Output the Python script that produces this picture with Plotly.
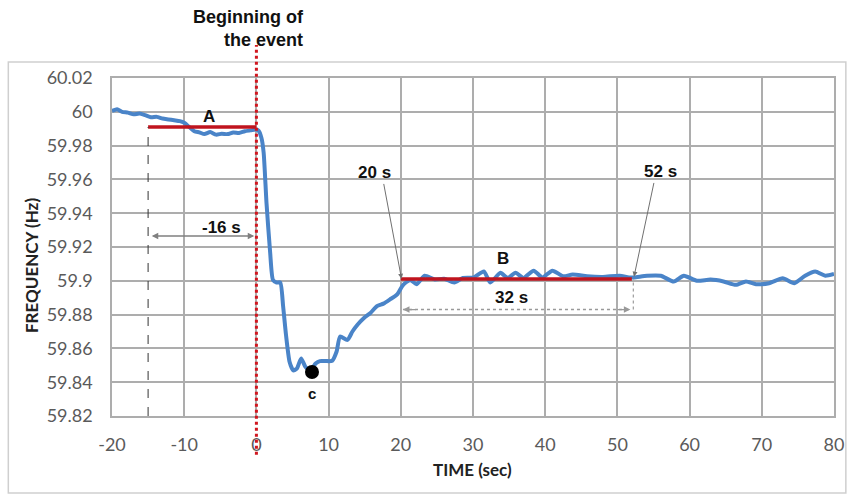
import plotly.graph_objects as go

# ---- data ----
time_s = [-20, -19.3, -18.6, -17.8, -17.0, -16.2, -15.4, -14.6, -13.8, -13.0, -12.2, -11.4, -10.6, -10.0,
          -9.3, -8.6, -7.9, -7.2, -6.4, -5.6, -4.8, -4.0, -3.2, -2.4, -1.6, -0.8, -0.1,
          0.3, 0.7, 1.0, 1.4, 1.9, 2.3, 2.8, 3.3, 3.7, 4.1, 4.6, 5.1, 5.6, 6.2, 6.8, 7.5, 8.2, 8.8,
          9.6, 10.5, 11.1, 11.6, 12.6, 13.3, 14.0, 14.9, 15.8, 16.7, 17.6, 18.5, 19.5, 20.3,
          21.3, 22.2, 23.3, 24.7, 26.0, 27.4, 28.6, 30.1, 31.5, 32.4, 33.8, 34.8, 35.9, 37.0,
          38.4, 39.6, 41.0, 42.5, 43.8, 45.8, 48.0, 50.3, 51.6, 52.3, 54.1, 56.0, 57.8, 59.2,
          61.0, 62.9, 64.7, 66.4, 67.8, 69.2, 71.0, 72.9, 74.5, 76.0, 77.4, 78.8, 80.0]
freq_hz = [60.0005, 60.0015, 60.0, 59.9995, 59.9985, 59.999, 59.998, 59.9968, 59.997, 59.996, 59.9955, 59.995, 59.9945, 59.9935,
           59.991, 59.9885, 59.9878, 59.9868, 59.988, 59.9865, 59.987, 59.9868, 59.9878, 59.9875, 59.9885, 59.989, 59.9895,
           59.9888, 59.9845, 59.976, 59.946, 59.917, 59.9005, 59.899, 59.8990, 59.885, 59.868, 59.852, 59.847, 59.848, 59.854, 59.849, 59.847, 59.851, 59.8525,
           59.8525, 59.8527, 59.858, 59.867, 59.865, 59.870, 59.874, 59.878, 59.881, 59.885, 59.8865, 59.889, 59.892, 59.8975,
           59.9005, 59.898, 59.903, 59.9008, 59.9012, 59.899, 59.9017, 59.902, 59.9055, 59.899, 59.9047, 59.9017, 59.9047, 59.9017,
           59.906, 59.902, 59.906, 59.9027, 59.9037, 59.9027, 59.9023, 59.903, 59.902, 59.902, 59.903, 59.903, 59.8996, 59.903,
           59.900, 59.9007, 59.8996, 59.8976, 59.8996, 59.898, 59.8986, 59.9015, 59.8986, 59.903, 59.9055, 59.903, 59.904]

level_a_t = [-15, 0]
level_a_f = [59.991, 59.991]
level_b_t = [20, 52]
level_b_f = [59.901, 59.901]
point_c = (7.7, 59.846)

y_ticks = [59.82, 59.84, 59.86, 59.88, 59.9, 59.92, 59.94, 59.96, 59.98, 60.0, 60.02]
y_tick_text = ["59.82", "59.84", "59.86", "59.88", "59.9", "59.92", "59.94", "59.96", "59.98", "60", "60.02"]
x_ticks = [-20, -10, 0, 10, 20, 30, 40, 50, 60, 70, 80]
x_tick_text = ["-20", "-10", "0", "10", "20", "30", "40", "50", "60", "70", "80"]

BLUE = "#4A84C8"
RED = "#C0141E"
GRID = "#ADADAD"
LABEL_FONT = dict(family="Liberation Sans, Arial, sans-serif", size=17, color="#111111")
TICK_FONT = dict(family="Lato, sans-serif", size=18, color="#5A5A5A")

fig = go.Figure()
fig.add_trace(go.Scatter(x=time_s, y=freq_hz, mode="lines",
                         line=dict(color=BLUE, width=4, shape="spline", smoothing=0.6),
                         hoverinfo="skip"))
fig.add_trace(go.Scatter(x=level_a_t, y=level_a_f, mode="lines", line=dict(color=RED, width=3.5)))
fig.add_trace(go.Scatter(x=level_b_t, y=level_b_f, mode="lines", line=dict(color=RED, width=3.5)))
fig.add_trace(go.Scatter(x=[point_c[0]], y=[point_c[1]], mode="markers",
                         marker=dict(color="black", size=14)))

# dashed vertical line at start of A
fig.add_shape(type="line", x0=-15, x1=-15, y0=59.82, y1=level_a_f[0], xref="x", yref="y",
              line=dict(color="#333333", width=1, dash="dash"))
# red dotted event line
fig.add_shape(type="line", x0=0, x1=0, y0=-0.115, y1=1.098, xref="x", yref="paper",
              line=dict(color="#D0161E", width=3, dash="dot"))
# dotted vertical at end of B
fig.add_shape(type="line", x0=52.2, x1=52.2, y0=59.883, y1=59.901, xref="x", yref="y",
              line=dict(color="#888888", width=1, dash="dot"))
# dotted horizontal for 32 s
fig.add_shape(type="line", x0=20.3, x1=51.8, y0=59.883, y1=59.883, xref="x", yref="y",
              line=dict(color="#999999", width=1.5, dash="dot"))
# outer border
fig.add_shape(type="rect", x0=-0.1436, x1=1.0164, y0=-0.228, y1=1.047, xref="paper", yref="paper",
              line=dict(color="#CFCFCF", width=1.5), layer="below")

anns = []
def arrow(x, y, ax, ay, color="#808080", width=1.2, side="end", head=2, size=1.0):
    anns.append(dict(x=x, y=y, ax=ax, ay=ay, xref="x", yref="y", axref="x", ayref="y",
                     text="", showarrow=True, arrowhead=head, arrowsize=size, arrowwidth=width,
                     arrowcolor=color, arrowside=side, standoff=0, startstandoff=0))

arrow(-0.3, 59.9265, -14.7, 59.9265, side="end+start", width=1.3)
arrow(20.1, 59.9012, 17.6, 59.9582, color="#707070", width=1)
arrow(52.3, 59.9024, 55.1, 59.9588, color="#707070", width=1)
arrow(20.3, 59.883, 22.3, 59.883, color="#999999", width=1.3)
arrow(51.8, 59.883, 49.8, 59.883, color="#999999", width=1.3)

def label(x, y, text, size=17):
    f = dict(LABEL_FONT)
    f["size"] = size
    anns.append(dict(x=x, y=y, xref="x", yref="y", text=f"<b>{text}</b>", showarrow=False, font=f,
                     xanchor="center", yanchor="middle"))

label(-6.6, 59.9973, "A")
label(-4.9, 59.9318, "-16 s")
label(16.4, 59.964, "20 s")
label(55.9, 59.9645, "52 s")
label(34.2, 59.913, "B")
label(35.3, 59.890, "32 s")
label(7.7, 59.8335, "c", size=15)

# title
anns.append(dict(xref="paper", yref="paper", x=(308 - 112) / 731, y=(416 - 52) / 338,
                 xanchor="right", yanchor="bottom", align="right", showarrow=False,
                 text="<b>Beginning of<br>the event</b>",
                 font=dict(family="Liberation Sans, Arial, sans-serif", size=18, color="#111111")))
# axis titles
anns.append(dict(xref="paper", yref="paper", x=(30 - 112) / 731, y=(416 - 266) / 338,
                 xanchor="center", yanchor="middle",
                 text="<b>FREQUENCY (Hz)</b>", textangle=-90, showarrow=False,
                 font=dict(family="Lato, sans-serif", size=17, color="#222222")))
anns.append(dict(xref="paper", yref="paper", x=(477 - 112) / 731, y=(416 - 469) / 338,
                 xanchor="center", yanchor="middle",
                 text="<b>TIME (sec)</b>", showarrow=False,
                 font=dict(family="Lato, sans-serif", size=17, color="#222222")))

fig.update_layout(
    width=856, height=495,
    margin=dict(l=112, r=13, t=78, b=79),
    paper_bgcolor="white", plot_bgcolor="white",
    showlegend=False,
    annotations=anns,
    xaxis=dict(range=[-20, 80], tickvals=x_ticks, ticktext=x_tick_text, showgrid=True,
               gridcolor=GRID, gridwidth=1.5, zeroline=False, showline=True, linecolor=GRID,
               linewidth=1.5, mirror=True, ticks="", ticklabelstandoff=12, tickfont=TICK_FONT),
    yaxis=dict(range=[59.82, 60.02], tickvals=y_ticks, ticktext=y_tick_text, showgrid=True,
               gridcolor=GRID, gridwidth=1.5, zeroline=False, showline=True, linecolor=GRID,
               linewidth=1.5, mirror=True, ticks="", ticklabelstandoff=14, tickfont=TICK_FONT),
)

fig.write_html("out.html")
